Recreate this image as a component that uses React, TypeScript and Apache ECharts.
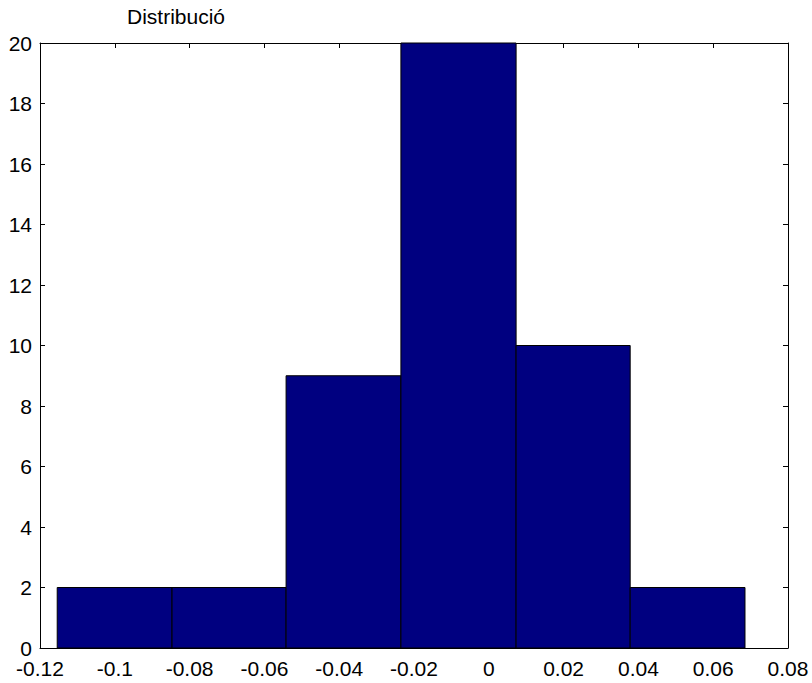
import React, { useEffect, useRef } from "react";
import * as echarts from "echarts";

const binStarts = [-0.1154, -0.0847, -0.0542, -0.0235, 0.0073, 0.0378];
const binEnds = [-0.0847, -0.0542, -0.0235, 0.0073, 0.0378, 0.0685];
const counts = [2, 2, 9, 20, 10, 2];
const titleText = "Distribució";

export default function App() {
  const ref = useRef<HTMLDivElement>(null);
  useEffect(() => {
    if (!ref.current) return;
    const chart = echarts.init(ref.current, null, { renderer: "svg" });
    const font = "Liberation Sans, Arial, sans-serif";
    const axisCommon = {
      type: "value" as const,
      axisLine: { show: true, onZero: false, lineStyle: { color: "#000", width: 1 } },
      axisTick: { show: true, inside: true, length: 5, lineStyle: { color: "#000" } },
      splitLine: { show: false },
    };
    chart.setOption({
      animation: false,
      backgroundColor: "#fff",
      title: {
        text: titleText,
        left: 127,
        top: 5,
        padding: 0,
        textStyle: { fontFamily: font, fontSize: 21, fontWeight: "normal", color: "#000", lineHeight: 22 },
      },
      grid: { left: 40, top: 43, right: 24, bottom: 35, containLabel: false },
      xAxis: [
        {
          ...axisCommon,
          position: "bottom",
          min: -0.12,
          max: 0.08,
          interval: 0.02,
          axisLabel: { show: true, margin: 10, color: "#000", fontFamily: font, fontSize: 21 },
        },
        {
          ...axisCommon,
          position: "top",
          min: -0.12,
          max: 0.08,
          interval: 0.02,
          axisLabel: { show: false },
        },
      ],
      yAxis: [
        {
          ...axisCommon,
          position: "left",
          min: 0,
          max: 20,
          interval: 2,
          axisLabel: { show: true, margin: 8, color: "#000", fontFamily: font, fontSize: 21 },
        },
        {
          ...axisCommon,
          position: "right",
          min: 0,
          max: 20,
          interval: 2,
          axisLabel: { show: false },
        },
      ],
      series: [
        {
          type: "custom",
          xAxisIndex: 0,
          yAxisIndex: 0,
          data: counts.map((c, i) => [binStarts[i], binEnds[i], c]),
          encode: { x: [0, 1], y: 2 },
          renderItem: (params: any, api: any) => {
            const p0 = api.coord([api.value(0), api.value(2)]);
            const p1 = api.coord([api.value(1), 0]);
            return {
              type: "rect",
              shape: { x: p0[0], y: p0[1], width: p1[0] - p0[0], height: p1[1] - p0[1] },
              style: { fill: "#000080", stroke: "#000", lineWidth: 1 },
            };
          },
        },
      ],
    });
    return () => chart.dispose();
  }, []);
  return (
    <div
      ref={ref}
      style={{ position: "fixed", left: 0, top: 0, width: 812, height: 683, overflow: "visible" }}
    />
  );
}
